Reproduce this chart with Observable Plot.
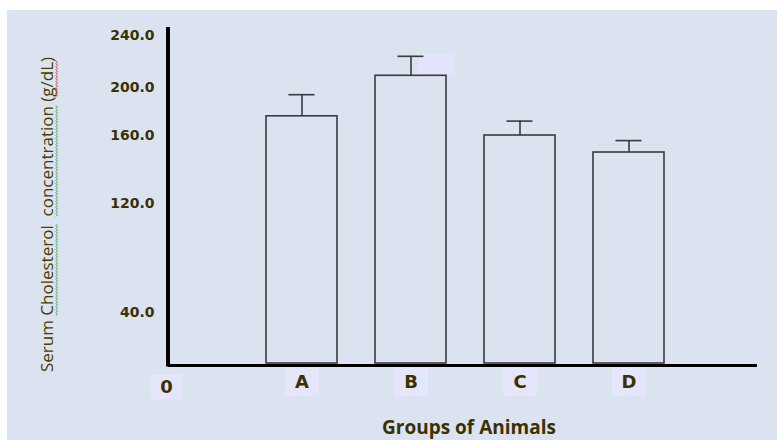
<!DOCTYPE html>
<html><head><meta charset="utf-8">
<script src="https://cdn.jsdelivr.net/npm/d3@7"></script>
<script src="https://cdn.jsdelivr.net/npm/@observablehq/plot@0.6"></script>
<style>
body{margin:0;background:#fff;}
#wrap{position:relative;width:777px;height:440px;overflow:hidden;}
#bg{position:absolute;left:7px;top:10px;right:0;bottom:0;background:#dbe3f0;}
#wrap svg{position:absolute;left:0;top:0;background:transparent;}
</style></head><body><div id="wrap"><div id="bg"></div></div>
<script>
// ---- data ----
const groups = ["A", "B", "C", "D"];
const means = [176, 209, 160, 150];
const upperErrors = [18, 15, 12, 7];
const yTickValues = [40, 120, 160, 200, 240];
const yTitle = "Serum Cholesterol  concentration (g/dL)";
const xTitle = "Groups of Animals";
const originLabel = "0";

const data = groups.map((g, i) => ({group: g, mean: means[i], top: means[i] + upperErrors[i]}));

const ink = "#3a3000";
const barStroke = "#3a3a3a";
const titleSize = 17;

const chart = Plot.plot({
  width: 777,
  height: 440,
  marginLeft: 168,
  marginRight: 20,
  marginTop: 35,
  marginBottom: 75,
  style: {background: "transparent", fontFamily: "DejaVu Sans", overflow: "visible"},
  x: {type: "band", domain: groups, range: [265.5, 663.5], paddingInner: 0.35, paddingOuter: 0},
  y: {type: "linear", domain: [0, 40, 120, 160, 200, 240], range: [365, 312, 203, 135, 87, 35]},
  marks: [
    Plot.barY(data, {x: "group", y: "mean", fill: "none", stroke: barStroke, strokeWidth: 1.6, insetBottom: 2}),
    Plot.ruleX(data, {x: "group", y1: "mean", y2: "top", stroke: barStroke, strokeWidth: 1.6}),
    Plot.tickY(data, {x: "group", y: "top", insetLeft: 22.5, insetRight: 22.5, stroke: barStroke, strokeWidth: 1.6}),
    Plot.ruleY([0], {stroke: "#000", strokeWidth: 3}),
    Plot.axisY({ticks: yTickValues, tickSize: 0, tickPadding: 14, tickFormat: d3.format(".1f"),
      fontSize: 14, fontWeight: "bold", color: ink, label: null}),
    Plot.axisX({tickSize: 0, tickPadding: 10, fontSize: 18, fontWeight: "bold", color: ink, label: null,
      fontFamily: "DejaVu Sans"}),
    Plot.text([originLabel], {text: d => d, frameAnchor: "bottom-left", textAnchor: "middle", lineAnchor: "middle",
      dy: 22, dx: -2, fontSize: 18, fontWeight: "bold", fill: ink}),
    Plot.text([yTitle], {text: d => d, frameAnchor: "left", textAnchor: "middle", rotate: -90, dx: -121, dy: 14,
      fontSize: titleSize, fontFamily: "Open Sans", fill: "#4a3d00"}),
    Plot.text([xTitle], {text: d => d, frameAnchor: "bottom", lineAnchor: "middle", dx: 6, dy: 62,
      fontSize: 19, fontWeight: "bold", fontFamily: "Open Sans", fill: ink})
  ]
});

document.getElementById("wrap").appendChild(chart);

// ---- decorations derived from the scales ----
const svg = d3.select(chart);
const y = chart.scale("y");
const x = chart.scale("x");
const textsWith = s => svg.selectAll("text").filter(function () { return this.textContent === s; });

// y axis line
svg.append("line")
  .attr("x1", 168).attr("x2", 168)
  .attr("y1", y.apply(0) + 1.5).attr("y2", y.apply(240) - 8)
  .attr("stroke", "#000").attr("stroke-width", 4);

// lavender boxes behind category labels and origin label
function boxBehind(textNodes, w, h) {
  textNodes.each(function () {
    const b = this.getBBox();
    const m = this.getCTM();
    const cx = b.x + b.width / 2, cy = b.y + b.height / 2;
    const px = m.a * cx + m.c * cy + m.e, py = m.b * cx + m.d * cy + m.f;
    svg.insert("rect", ":first-child")
      .attr("x", px - w / 2).attr("y", py - h / 2).attr("width", w).attr("height", h)
      .attr("fill", "#e5e6fb");
  });
}
boxBehind(svg.selectAll('g[aria-label="x-axis tick label"] text'), 34, 28);
boxBehind(textsWith(originLabel), 31, 25);

// small lavender box beside B error cap
{
  const d = data[1];
  const cx = x.apply(d.group) + x.bandwidth / 2;
  svg.insert("rect", ":first-child")
    .attr("x", cx + 8).attr("y", y.apply(d.top) - 2)
    .attr("width", 36).attr("height", y.apply(d.mean) - y.apply(d.top) + 1)
    .attr("fill", "#e3e3fb");
}

// y title: keep double space, add wavy spell-check underlines
{
  const t = textsWith(yTitle);
  if (!t.empty()) {
    t.style("white-space", "pre");
    const node = t.node();
    const total = node.getComputedTextLength();
    const tr = t.attr("transform");
    const g = d3.select(node.parentNode);
    const base = 0.32 * titleSize + 3;
    [["Cholesterol", "#3fae49"], ["concentration", "#3fae49"], ["g/dL", "#e0403a"]].forEach(([word, col]) => {
      const idx = yTitle.indexOf(word);
      const x0 = -total / 2 + node.getSubStringLength(0, idx);
      const len = node.getSubStringLength(idx, word.length);
      let p = `M${x0},${base}`;
      for (let k = 0, xx = x0; xx < x0 + len; k++) { xx += 1.5; p += `L${xx},${base + (k % 2 ? 0 : 1.5)}`; }
      g.append("path").attr("transform", tr).attr("d", p)
        .attr("fill", "none").attr("stroke", col).attr("stroke-width", 1);
    });
  }
}
</script></body></html>
